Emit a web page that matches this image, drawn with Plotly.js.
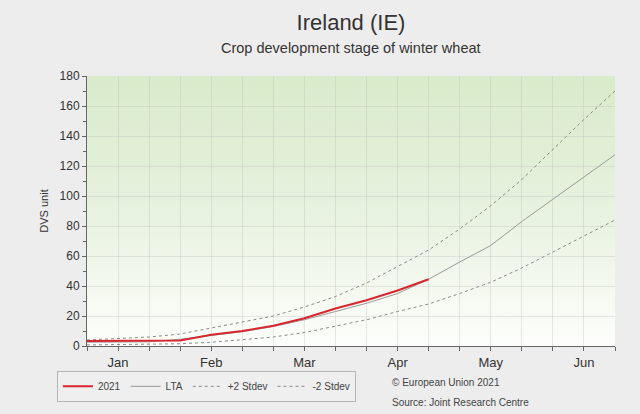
<!DOCTYPE html>
<html>
<head>
<meta charset="utf-8">
<script src="https://cdn.plot.ly/plotly-3.0.1.min.js"></script>
<style>
html,body{margin:0;padding:0;background:#ededed;}
#chart{width:640px;height:414px;}
</style>
</head>
<body>
<div id="chart"></div>
<script>
// Dekads (10-day periods) from January to June
const dekads = ["Jan 1","Jan 2","Jan 3","Feb 1","Feb 2","Feb 3","Mar 1","Mar 2","Mar 3",
                "Apr 1","Apr 2","Apr 3","May 1","May 2","May 3","Jun 1","Jun 2","Jun 3"];
const monthTicks = ["Jan 2","Feb 2","Mar 2","Apr 2","May 2","Jun 2"];
const monthLabels = ["Jan","Feb","Mar","Apr","May","Jun"];

const y2021 = [3.3, 3.3, 3.3, 3.6, 7.5, 10, 13.5, 18.5, 25, 30.5, 37, 44.5];
const lta   = [2.5, 2.6, 2.8, 4.5, 7, 9.5, 13, 17.5, 23, 28.5, 35, 44.5, 56, 67, 83, 98, 113, 127.5];
const plus2 = [4, 5, 6, 8, 12, 15.5, 20, 26, 33, 42, 53, 64, 78, 93.5, 111, 131, 151, 170];
const minus2= [0.7, 0.8, 1, 1.5, 2.5, 4, 6, 9, 13, 17.5, 23, 28, 35, 42.5, 52, 62.5, 73, 84];

const seriesNames = ["2021","LTA","+2 Stdev","-2 Stdev"];
const titleText = "Ireland (IE)";
const subtitleText = "Crop development stage of winter wheat";

const gradSvg = '<svg xmlns="http://www.w3.org/2000/svg" width="100" height="100" preserveAspectRatio="none">' +
  '<defs><linearGradient id="g" x1="0" y1="0" x2="0" y2="1">' +
  '<stop offset="0" stop-color="#d9ebcb"/><stop offset="0.45" stop-color="#e6f1dd"/>' +
  '<stop offset="1" stop-color="#fdfefb"/></linearGradient></defs>' +
  '<rect width="100" height="100" fill="url(#g)"/></svg>';
const gradUri = 'data:image/svg+xml;base64,' + btoa(gradSvg);

const traces = [
  {x: dekads.slice(0, y2021.length), y: y2021, name: seriesNames[0], type: 'scatter', mode: 'lines',
   line: {color: '#d9262e', width: 2}},
  {x: dekads, y: lta, name: seriesNames[1], type: 'scatter', mode: 'lines',
   line: {color: '#9a9a9a', width: 1}},
  {x: dekads, y: plus2, name: seriesNames[2], type: 'scatter', mode: 'lines',
   line: {color: '#8a8a8a', width: 1, dash: '3px,3px'}},
  {x: dekads, y: minus2, name: seriesNames[3], type: 'scatter', mode: 'lines',
   line: {color: '#8a8a8a', width: 1, dash: '3px,3px'}}
];
const data = [traces[1], traces[2], traces[3], traces[0]];
data.forEach(t => { t.legendrank = seriesNames.indexOf(t.name) + 1; });

const layout = {
  width: 640, height: 414,
  margin: {l: 87, r: 25, t: 76, b: 66},
  paper_bgcolor: '#ededed',
  plot_bgcolor: 'rgba(0,0,0,0)',
  font: {family: 'Liberation Sans, Arial, sans-serif', color: '#333', size: 12},
  title: {
    text: titleText,
    x: 0.5, xref: 'paper', xanchor: 'center',
    yref: 'container', y: 0.947, yanchor: 'middle',
    font: {size: 22, color: '#333'}
  },
  images: [{source: gradUri, xref: 'paper', yref: 'paper', x: 0, y: 1, sizex: 1, sizey: 1,
            xanchor: 'left', yanchor: 'top', sizing: 'stretch', layer: 'below'}],
  xaxis: {
    type: 'category', categoryorder: 'array', categoryarray: dekads,
    range: [0, dekads.length - 1],
    tickmode: 'array', tickvals: dekads,
    ticktext: dekads.map(d => { const k = monthTicks.indexOf(d); return k >= 0 ? monthLabels[k] : ''; }),
    ticks: 'outside', ticklen: 4, tickcolor: '#666',
    showline: true, linecolor: '#666', linewidth: 1,
    showgrid: true, gridcolor: 'rgba(190,190,190,0.35)', gridwidth: 1,
    tickfont: {size: 13, color: '#333'},
    zeroline: false, fixedrange: true
  },
  yaxis: {
    range: [0, 180], dtick: 20, tick0: 0,
    ticks: 'outside', ticklen: 4, tickcolor: '#666',
    minor: {dtick: 10, ticks: 'outside', ticklen: 3, tickcolor: '#666', showgrid: false},
    showline: true, linecolor: '#666', linewidth: 1,
    showgrid: true, gridcolor: 'rgba(190,190,190,0.35)',
    zeroline: false,
    tickfont: {size: 12, color: '#333'},
    title: {text: 'DVS unit', font: {size: 11, color: '#333'}, standoff: 8}
  },
  showlegend: true,
  legend: {
    orientation: 'h', x: -0.057, y: -0.092, xanchor: 'left', yanchor: 'top',
    bgcolor: '#efefef', bordercolor: '#b5b5b5', borderwidth: 1,
    font: {size: 10, color: '#444'},
    traceorder: 'normal'
  },
  annotations: [
    {text: subtitleText, x: 0.5, xref: 'paper', y: 1.103, yref: 'paper', xanchor: 'center', yanchor: 'middle',
     showarrow: false, font: {size: 14.5, color: '#333'}},
    {text: '© European Union 2021', xref: 'paper', yref: 'paper', x: 0.574, y: -0.136,
     xanchor: 'left', yanchor: 'middle', showarrow: false, font: {size: 10, color: '#444'}},
    {text: 'Source: Joint Research Centre', xref: 'paper', yref: 'paper', x: 0.574, y: -0.21,
     xanchor: 'left', yanchor: 'middle', showarrow: false, font: {size: 10, color: '#444'}}
  ]
};

Plotly.newPlot('chart', data, layout, {displayModeBar: false, staticPlot: true});
</script>
</body>
</html>
